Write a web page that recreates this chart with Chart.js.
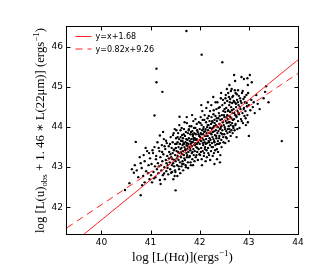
<!DOCTYPE html>
<html>
<head>
<meta charset="utf-8">
<script src="https://cdn.jsdelivr.net/npm/chart.js@4/dist/chart.umd.min.js"></script>
<style>
  html, body { margin: 0; padding: 0; background: #fff; }
  #wrap { width: 332px; height: 277px; }
</style>
</head>
<body>
<div id="wrap"><canvas id="c" width="332" height="277"></canvas></div>
<script>
// ---- data ----
const xTickValues = [40, 41, 42, 43, 44];
const yTickValues = [42, 43, 44, 45, 46];
const xRange = [39.3, 44];
const yRange = [41.33, 46.5];

// log L(Halpha) of each galaxy
const logLHalpha = [
  40.62,40.68,40.75,40.80,40.83,40.86,40.88,40.91,40.93,40.96,40.98,40.99,
  41.02,41.03,41.05,41.06,41.08,41.09,41.10,41.11,41.13,41.14,
  41.15,41.16,41.18,41.19,41.20,41.21,41.22,41.23,41.24,41.25,
  41.26,41.27,41.28,41.29,41.30,41.31,41.32,41.33,41.34,41.35,
  41.36,41.37,41.38,41.39,41.40,41.41,41.42,41.43,41.44,41.45,
  41.45,41.46,41.47,41.48,41.48,41.49,41.50,41.50,41.51,41.52,
  41.53,41.54,41.55,41.55,41.56,41.57,41.57,41.58,41.58,41.59,41.60,
  41.60,41.61,41.61,41.62,41.62,41.63,41.63,41.64,41.64,41.65,41.65,
  41.66,41.66,41.67,41.67,41.68,41.68,41.69,41.70,41.70,41.71,41.71,41.72,41.72,
  41.73,41.73,41.74,41.74,41.75,41.75,41.76,41.76,41.77,41.77,41.78,41.78,41.79,
  41.80,41.80,41.81,41.81,41.82,41.82,41.83,41.83,41.84,41.84,41.85,41.85,41.86,41.86,41.87,41.87,41.88,
  41.88,41.89,41.89,41.90,41.90,41.91,41.91,41.92,41.92,41.93,41.94,41.94,41.95,41.96,41.97,41.98,41.99,
  42.00,42.00,42.01,42.01,42.02,42.02,42.03,42.03,42.04,42.04,42.05,42.05,42.06,42.06,42.07,42.07,
  42.08,42.08,42.09,42.09,42.10,42.10,42.11,42.11,42.12,42.12,42.13,42.13,42.14,42.14,42.15,42.15,
  42.16,42.16,42.17,42.17,42.18,42.18,42.19,42.19,42.20,42.20,42.21,42.21,42.22,42.22,42.23,42.23,
  42.24,42.24,42.25,42.25,42.26,42.26,42.27,42.27,42.28,42.28,42.29,42.29,42.30,42.30,42.30,42.30,
  42.31,42.32,42.32,42.33,42.33,42.34,42.34,42.35,42.35,42.36,42.36,42.37,42.37,42.38,42.38,42.39,42.39,
  42.40,42.40,42.41,42.41,42.42,42.42,42.43,42.43,42.44,42.44,42.45,42.46,42.46,42.47,42.48,42.48,42.49,
  42.50,42.50,42.51,42.51,42.52,42.52,42.53,42.53,42.54,42.54,42.55,42.55,42.56,42.56,42.57,
  42.57,42.58,42.58,42.59,42.59,42.60,42.60,42.61,42.61,42.62,42.62,42.63,42.63,42.64,42.64,
  42.65,42.66,42.66,42.67,42.67,42.68,42.68,42.69,42.70,42.70,42.71,42.71,42.72,42.73,
  42.73,42.74,42.75,42.75,42.76,42.77,42.78,42.78,42.79,42.80,42.81,42.82,42.83,42.84,
  42.85,42.86,42.87,42.88,42.89,42.90,42.90,42.91,42.92,42.93,
  42.94,42.95,42.96,42.97,42.97,42.98,43.00,43.00,43.02,43.03,
  43.05,43.06,43.08,43.10,43.12,43.15,43.18,43.22,43.30,43.33,43.35,43.40,
  41.73,42.04,42.46,41.12,41.12,41.24,41.08,41.59,40.70,
  43.67,41.51,40.80,40.66,40.48,41.19,42.85,42.72,42.98
];

// log [L(u)obs + 1.46 L(22um)] of each galaxy (same order)
const logLuIR = [
  42.95,43.05,42.75,43.10,42.55,43.30,43.15,42.90,43.40,43.05,42.70,43.22,
  43.08,42.62,43.35,42.88,43.50,43.02,42.75,43.20,42.95,43.62,
  43.10,42.85,43.40,42.68,43.25,43.05,42.92,43.55,43.15,42.80,
  43.32,43.70,43.00,42.70,43.45,43.18,42.90,43.60,43.28,43.05,
  42.82,43.52,43.38,43.12,42.95,43.75,43.25,43.48,42.88,43.62,
  43.35,43.10,43.85,43.02,43.44,42.78,43.30,43.58,43.15,43.72,
  43.40,43.05,43.62,43.28,43.85,43.18,43.50,42.95,43.70,43.35,43.58,
  43.12,43.45,43.92,43.25,43.66,43.02,43.48,43.80,43.32,43.55,43.15,
  43.72,43.40,43.08,43.60,43.95,43.30,43.50,43.18,43.78,43.42,43.62,43.00,43.88,
  43.35,43.55,44.10,43.25,43.68,43.45,43.85,43.12,43.58,43.38,43.72,43.95,43.50,
  43.28,43.65,43.82,43.42,43.05,43.58,44.02,43.70,43.35,43.52,43.90,43.20,43.62,43.78,43.45,44.15,43.68,
  43.30,43.85,43.55,43.72,43.40,43.98,43.60,43.25,43.82,43.50,43.70,44.08,43.38,43.88,43.62,43.45,43.78,
  43.95,43.58,43.30,43.75,44.25,43.85,43.48,43.65,44.05,43.20,43.92,43.72,43.40,44.18,43.82,43.55,
  43.68,44.00,43.35,43.88,43.62,44.30,43.78,43.50,43.95,43.15,44.12,43.70,43.42,43.85,44.00,43.60,
  43.78,44.22,43.48,43.92,43.65,44.05,43.30,43.85,44.15,43.72,43.55,44.40,43.98,43.68,43.40,44.08,
  43.82,44.25,43.60,43.95,43.75,44.12,43.50,43.88,44.32,43.70,44.02,43.35,43.90,44.18,43.62,43.08,
  43.80,44.28,43.55,44.05,43.92,43.72,44.45,43.45,44.15,43.85,44.62,44.00,43.65,44.22,43.90,43.58,44.35,
  44.08,43.78,44.50,43.95,43.30,44.18,43.85,44.72,44.02,43.68,44.30,43.92,44.55,44.12,43.75,44.40,44.05,
  44.25,43.82,44.60,44.00,43.60,44.38,44.15,44.80,43.90,44.48,44.10,43.72,44.30,44.65,43.95,
  44.20,44.85,44.42,44.02,43.65,44.55,44.28,43.88,44.12,44.70,44.38,44.05,43.78,44.50,44.22,
  44.95,44.10,44.60,43.85,44.35,44.78,44.02,44.45,44.20,45.30,43.92,44.62,44.30,44.85,
  44.08,44.50,44.25,43.75,44.68,44.40,44.15,44.92,44.55,44.32,43.98,44.72,44.45,44.20,
  44.60,44.85,44.35,44.10,44.70,44.48,45.20,44.28,44.62,44.40,
  44.05,44.80,44.52,45.22,44.30,44.12,43.78,44.55,45.30,44.42,
  44.68,45.12,44.50,44.62,44.35,44.80,44.58,44.45,44.72,44.88,45.02,44.62,
  46.40,45.81,45.62,45.46,45.12,44.88,44.29,44.26,43.63,
  43.65,42.42,42.30,42.86,42.43,43.79,45.25,45.15,45.05
];

// further galaxies filling the dense part of the cloud
const moreLHalpha = [
  41.04,41.07,41.115,41.17,41.205,41.235,41.275,41.315,41.345,41.372,41.395,41.418,41.438,41.457,41.463,41.473,41.484,41.492,41.497,41.255,41.165,41.285,41.325,41.405,41.445,
  41.505,41.515,41.525,41.535,41.545,41.552,41.563,41.574,41.585,41.593,41.604,
  41.612,41.623,41.633,41.645,41.652,41.663,41.674,41.686,41.693,41.705,41.714,
  41.725,41.736,41.745,41.756,41.764,41.775,41.786,41.795,41.805,41.813,41.824,
  41.836,41.845,41.853,41.864,41.875,41.884,41.895,41.905,41.913,41.926,41.935,
  41.946,41.953,41.964,41.975,41.984,41.993,41.528,41.678,41.742,41.858,41.942,
  42.005,42.015,42.024,42.035,42.046,42.053,42.064,42.073,42.085,42.094,42.105,
  42.114,42.123,42.135,42.146,42.155,42.163,42.174,42.185,42.193,42.204,42.213,
  42.225,42.236,42.245,42.254,42.265,42.273,42.285,42.294,42.305,42.314,42.323,
  42.335,42.346,42.355,42.364,42.373,42.385,42.394,42.405,42.414,42.425,42.436,
  42.445,42.454,42.463,42.474,42.485,42.494,42.032,42.168,42.352,42.412,42.276,
  42.505,42.515,42.524,42.535,42.546,42.553,42.564,42.575,42.586,42.594,
  42.605,42.615,42.624,42.635,42.646,42.655,42.664,42.675,42.686,42.693,
  42.705,42.714,42.725,42.736,42.745,42.754,42.765,42.776,42.785,42.795,
  42.815,42.835,42.855,42.875,42.895,42.915,42.935,42.955,42.985,42.605,
  40.72,40.78,40.85,40.90,40.95,40.97,40.57,40.88,41.01,40.82
];
const moreLuIR = [
  43.42,42.72,43.28,43.02,42.58,43.38,42.84,43.66,42.98,43.22,43.58,42.86,43.05,43.80,42.70,43.42,43.18,43.95,42.92,43.88,43.48,43.52,43.10,43.32,43.20,
  42.88,43.48,43.92,43.22,42.78,43.75,43.38,43.02,44.05,43.58,42.85,
  43.75,43.38,43.98,43.08,43.65,42.92,43.82,43.22,44.12,43.45,43.05,
  43.70,44.25,43.30,43.52,42.98,43.92,43.25,44.02,43.48,43.12,43.88,
  43.62,44.30,43.38,43.05,43.72,43.98,43.15,43.55,44.20,43.68,43.30,
  43.92,43.48,43.18,43.82,44.12,43.32,43.58,43.58,43.60,43.82,43.58,
  43.68,44.10,43.38,43.82,43.05,44.40,43.60,43.95,43.28,44.18,43.45,
  43.90,43.58,44.48,43.25,43.78,44.05,43.35,44.28,43.62,43.98,43.18,
  43.85,44.55,43.50,44.15,43.28,43.98,44.42,43.65,44.10,43.42,44.62,
  43.78,44.22,43.58,44.00,43.38,44.48,43.72,44.28,43.60,43.98,44.85,
  43.50,44.20,43.82,44.68,43.62,44.30,44.55,44.62,43.20,43.12,44.75,
  44.45,43.95,44.72,43.75,44.25,44.95,43.85,44.40,44.12,44.75,
  43.95,44.62,44.25,44.90,43.92,44.42,44.75,44.18,43.98,44.65,
  44.35,44.92,44.05,44.58,44.28,44.82,43.95,44.62,44.35,44.78,
  44.50,44.65,44.15,44.90,44.45,44.75,44.22,44.60,44.85,45.05,
  42.92,43.25,42.78,43.48,42.85,43.35,42.60,42.62,42.80,42.98
];

// fit lines (end points at the x-range limits)
const fitLabels = ['y=x+1.68', 'y=0.82x+9.26'];
const fitX = [39.3, 44];
const fitSolidY = [40.98, 45.68];
const fitDashedY = [41.486, 45.34];

// ---- chart ----
const galaxies = [];
function addPoints(xs, ys) {
  const n = Math.min(xs.length, ys.length);
  for (let i = 0; i < n; i++) galaxies.push({ x: xs[i], y: ys[i] });
}
addPoints(logLHalpha, logLuIR);
addPoints(moreLHalpha, moreLuIR);

const RED = '#ff2020';
const DASH = [7, 5];

function drawRich(ctx, segs, size) {
  let x = 0;
  for (const [t, k] of segs) {
    const s = k === 'n' ? size : size * 0.7;
    const dy = k === 'sub' ? size * 0.22 : (k === 'sup' ? -size * 0.42 : 0);
    ctx.font = s + 'px "Liberation Serif", "DejaVu Serif", serif';
    ctx.fillText(t, x, dy);
    x += ctx.measureText(t).width;
  }
  return x;
}
function measureRich(ctx, segs, size) {
  let w = 0;
  for (const [t, k] of segs) {
    const s = k === 'n' ? size : size * 0.7;
    ctx.font = s + 'px "Liberation Serif", "DejaVu Serif", serif';
    w += ctx.measureText(t).width;
  }
  return w;
}

const xTitle = [['log [L(H\u03B1)](ergs', 'n'], ['\u22121', 'sup'], [')', 'n']];
const yTitle = [['log [L(u)', 'n'], ['obs', 'sub'], [' + 1. 46 \u2217 L(22\u03BCm)] (ergs', 'n'], ['\u22121', 'sup'], [')', 'n']];

const decor = {
  id: 'decor',
  afterDraw(chart) {
    const { ctx, chartArea: a, scales } = chart;
    const xs = scales.x, ys = scales.y;
    ctx.save();
    ctx.strokeStyle = '#000';
    ctx.lineWidth = 1;
    const L = Math.round(a.left) - 0.5, R = Math.round(a.right) + 0.5;
    const T = Math.round(a.top) - 0.5, B = Math.round(a.bottom) + 0.5;
    ctx.strokeRect(L, T, R - L, B - T);
    ctx.beginPath();
    for (const v of xTickValues) {
      const p = Math.round(xs.getPixelForValue(v)) + 0.5;
      ctx.moveTo(p, B); ctx.lineTo(p, B - 4);
      ctx.moveTo(p, T); ctx.lineTo(p, T + 4);
    }
    for (const v of yTickValues) {
      const p = Math.round(ys.getPixelForValue(v)) + 0.5;
      ctx.moveTo(L, p); ctx.lineTo(L + 4, p);
      ctx.moveTo(R, p); ctx.lineTo(R - 4, p);
    }
    ctx.stroke();

    // legend
    const lx0 = L + 9, lx1 = L + 25, tx = L + 29;
    const ly = [T + 10, T + 22.5];
    ctx.lineWidth = 1;
    ctx.strokeStyle = RED;
    ctx.beginPath(); ctx.moveTo(lx0, ly[0]); ctx.lineTo(lx1, ly[0]); ctx.stroke();
    ctx.setLineDash(DASH);
    ctx.beginPath(); ctx.moveTo(lx0, ly[1]); ctx.lineTo(lx1, ly[1]); ctx.stroke();
    ctx.setLineDash([]);
    ctx.fillStyle = '#000';
    ctx.font = '8px "DejaVu Sans", sans-serif';
    ctx.textBaseline = 'middle';
    ctx.fillText(fitLabels[0], tx, ly[0] + 0.5);
    ctx.fillText(fitLabels[1], tx, ly[1] + 0.5);

    // axis titles
    ctx.textBaseline = 'alphabetic';
    ctx.textAlign = 'left';
    let base = 14;
    let w = measureRich(ctx, xTitle, base);
    let size = base * 101 / w;
    w = measureRich(ctx, xTitle, size);
    ctx.save();
    ctx.translate(182.5 - w / 2, 261);
    drawRich(ctx, xTitle, size);
    ctx.restore();
    w = measureRich(ctx, yTitle, base);
    size = base * 205 / w;
    w = measureRich(ctx, yTitle, size);
    ctx.save();
    ctx.translate(44, 130.5 + w / 2);
    ctx.rotate(-Math.PI / 2);
    drawRich(ctx, yTitle, size);
    ctx.restore();
    ctx.restore();
  }
};

new Chart(document.getElementById('c'), {
  type: 'scatter',
  data: {
    datasets: [
      {
        label: fitLabels[0],
        data: fitX.map((x, i) => ({ x, y: fitSolidY[i] })),
        showLine: true, borderColor: RED, borderWidth: 1,
        pointRadius: 0, fill: false, order: 0
      },
      {
        label: fitLabels[1],
        data: fitX.map((x, i) => ({ x, y: fitDashedY[i] })),
        showLine: true, borderColor: RED, borderWidth: 1, borderDash: DASH,
        pointRadius: 0, fill: false, order: 1
      },
      {
        label: 'galaxies',
        data: galaxies,
        pointRadius: 1.2, pointStyle: 'circle',
        backgroundColor: '#000', borderColor: '#000', borderWidth: 0,
        order: 2
      }
    ]
  },
  options: {
    responsive: false,
    devicePixelRatio: 1,
    animation: false,
    events: [],
    layout: { padding: { left: 0, top: 27, right: 34, bottom: 0 } },
    plugins: { legend: { display: false }, tooltip: { enabled: false } },
    scales: {
      x: {
        type: 'linear', min: xRange[0], max: xRange[1],
        afterBuildTicks: s => { s.ticks = xTickValues.map(v => ({ value: v })); },
        afterFit: s => { s.height = 43; },
        grid: { display: false, drawTicks: false },
        border: { display: false },
        ticks: { padding: 3, color: '#000', font: { family: 'DejaVu Sans', size: 9 }, maxRotation: 0 }
      },
      y: {
        type: 'linear', min: yRange[0], max: yRange[1],
        afterBuildTicks: s => { s.ticks = yTickValues.map(v => ({ value: v })); },
        afterFit: s => { s.width = 67; },
        grid: { display: false, drawTicks: false },
        border: { display: false },
        ticks: { padding: 4, color: '#000', font: { family: 'DejaVu Sans', size: 9 } }
      }
    }
  },
  plugins: [decor]
});
</script>
</body>
</html>
